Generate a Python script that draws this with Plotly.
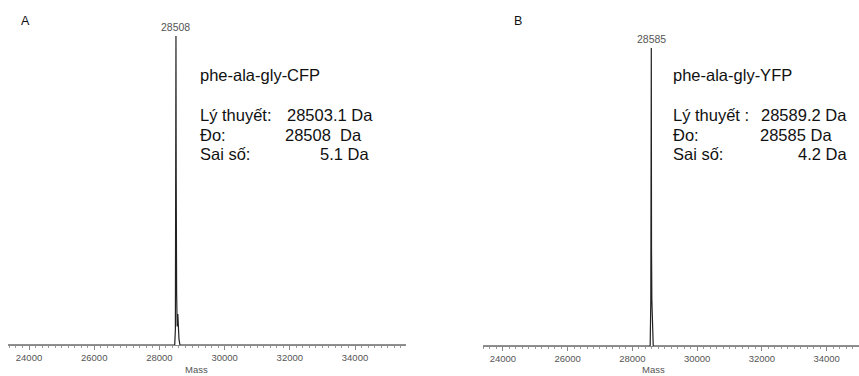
import plotly.graph_objects as go

W, H = 859, 376

# ---------------- data ----------------
mass_A = [23300, 28440, 28470, 28490, 28500, 28508, 28516, 28528, 28545, 28565, 28580, 28600, 28630, 35600]
intensity_A = [0, 0, 0, 5, 53, 100, 53, 17, 6, 10, 4, 2, 0, 0]
mass_B = [23300, 28520, 28550, 28570, 28578, 28585, 28592, 28602, 28620, 28645, 35600]
intensity_B = [0, 0, 0, 15, 54, 96.5, 31, 15, 4, 0, 0]
peak_A = 28508
peak_B = 28585
peak_label_A = "28508"
peak_label_B = "28585"
name_A = "phe-ala-gly-CFP"
name_B = "phe-ala-gly-YFP"
rows_A = [("Lý thuyết:", "28503.1 Da"), ("Đo:", "28508  Da"), ("Sai số:", "5.1 Da")]
rows_B = [("Lý thuyết :", "28589.2 Da"), ("Đo:", "28585 Da"), ("Sai số:", "4.2 Da")]
tick_vals = [24000, 26000, 28000, 30000, 32000, 34000]
tick_text = ["24000", "26000", "28000", "30000", "32000", "34000"]
xrange_A = [23356, 35564]
xrange_B = [23387, 35000]
# --------------------------------------

def px(x):
    return x / W

def py(y):
    return 1 - y / H

fig = go.Figure()
fig.add_trace(go.Scatter(x=mass_A, y=intensity_A, mode="lines", line=dict(color="#222", width=1.2),
                         xaxis="x", yaxis="y", showlegend=False, hoverinfo="skip"))
fig.add_trace(go.Scatter(x=mass_B, y=intensity_B, mode="lines", line=dict(color="#222", width=1.2),
                         xaxis="x2", yaxis="y2", showlegend=False, hoverinfo="skip"))

FONT = "Liberation Sans, Arial"
xax = dict(showline=True, linecolor="#888", linewidth=1, ticks="outside", ticklen=4, tickcolor="#888",
           tickvals=tick_vals, ticktext=tick_text, tickfont=dict(family=FONT, size=9.5, color="#555"),
           showgrid=False, zeroline=False, fixedrange=True,
           minor=dict(ticks="outside", ticklen=2, tickcolor="#999", dtick=200, tick0=0, showgrid=False))
yax = dict(visible=False, showgrid=False, zeroline=False, range=[0, 105.2], fixedrange=True)

fig.update_layout(
    width=W, height=H,
    margin=dict(l=0, r=0, t=0, b=0),
    paper_bgcolor="white", plot_bgcolor="white",
    xaxis=dict(xax, domain=[px(8), px(406)], range=xrange_A, anchor="y"),
    yaxis=dict(yax, domain=[py(345), py(20)], anchor="x"),
    xaxis2=dict(xax, domain=[px(483), 1.0], range=xrange_B, anchor="y2"),
    yaxis2=dict(yax, domain=[py(346), py(21)], anchor="x2"),
    font=dict(family=FONT, color="#111"),
)

ann = []
fnt = dict(family=FONT, size=16.5, color="#111")
# peak labels
ann.append(dict(x=peak_A, y=intensity_A[5], xref="x", yref="y", text=peak_label_A, showarrow=False,
                yanchor="bottom", yshift=1, font=dict(size=10.5, color="#555")))
ann.append(dict(x=peak_B, y=intensity_B[5], xref="x2", yref="y2", text=peak_label_B, showarrow=False,
                yanchor="bottom", yshift=1, font=dict(size=10.5, color="#555")))
# panel letters
ann.append(dict(x=px(19), y=py(21), xref="paper", yref="paper", text="A", showarrow=False,
                xanchor="left", yanchor="middle", font=dict(size=12.5, color="#111")))
ann.append(dict(x=px(512), y=py(21), xref="paper", yref="paper", text="B", showarrow=False,
                xanchor="left", yanchor="middle", font=dict(size=12.5, color="#111")))
# x titles
ann.append(dict(x=px(183), y=py(369), xref="paper", yref="paper", text="Mass", showarrow=False,
                yanchor="middle", font=dict(size=9.5, color="#555")))
ann.append(dict(x=px(667), y=py(369), xref="paper", yref="paper", text="Mass", showarrow=False,
                yanchor="middle", font=dict(size=9.5, color="#555")))

def block(x0, name, rows, vend):
    ann.append(dict(x=px(x0), y=py(75), xref="paper", yref="paper", text=name, showarrow=False,
                    xanchor="left", yanchor="middle", font=fnt))
    for i, (lab, val) in enumerate(rows):
        yy = [115, 135, 154][i]
        ann.append(dict(x=px(x0), y=py(yy), xref="paper", yref="paper", text=lab, showarrow=False,
                        xanchor="left", yanchor="middle", font=fnt))
        ann.append(dict(x=px(vend[i]), y=py(yy), xref="paper", yref="paper", text=val, showarrow=False,
                        xanchor="right", yanchor="middle", font=fnt))

block(198, name_A, rows_A, [375, 364, 371])
block(671, name_B, rows_B, [849, 834, 849])

fig.update_layout(annotations=ann)
fig.write_html("out.html", config=dict(displayModeBar=False, staticPlot=True),
               post_script="document.body.style.margin='0';document.body.style.overflow='hidden';")
